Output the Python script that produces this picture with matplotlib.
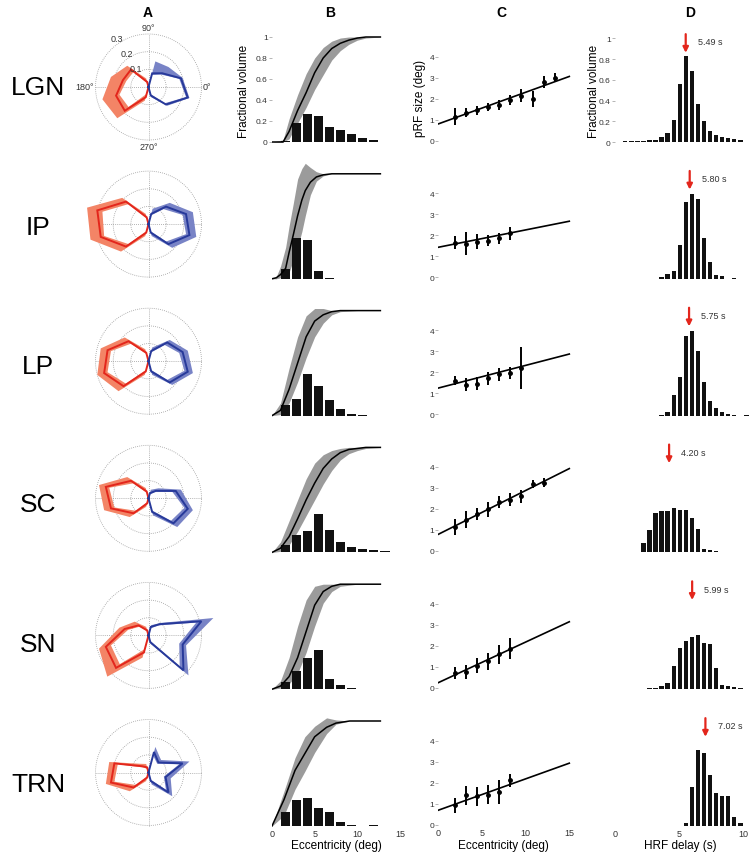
import numpy as np
import matplotlib
matplotlib.use('Agg')
import matplotlib.pyplot as plt

plt.rcParams['font.family'] = ['Liberation Sans', 'DejaVu Sans']

# ---------------- data ----------------
regions = ['LGN', 'IP', 'LP', 'SC', 'SN', 'TRN']

# A: polar angle distributions (angle bins in degrees)
red_theta = [105, 135, 165, 195, 225, 255]
blue_theta = [75, 45, 15, -15, -45, -75]
red_mid = [[0.03, 0.14, 0.15, 0.19, 0.19, 0.06],
           [0.04, 0.18, 0.30, 0.28, 0.18, 0.05],
           [0.05, 0.16, 0.24, 0.26, 0.20, 0.06],
           [0.04, 0.14, 0.25, 0.22, 0.12, 0.03],
           [0.03, 0.08, 0.14, 0.25, 0.26, 0.10],
           [0.03, 0.05, 0.20, 0.22, 0.12, 0.03]]
red_lo = [[0.02, 0.12, 0.13, 0.17, 0.16, 0.04],
          [0.03, 0.16, 0.27, 0.26, 0.16, 0.04],
          [0.04, 0.14, 0.22, 0.24, 0.18, 0.05],
          [0.03, 0.12, 0.23, 0.20, 0.10, 0.02],
          [0.02, 0.07, 0.12, 0.22, 0.23, 0.08],
          [0.02, 0.04, 0.18, 0.20, 0.10, 0.02]]
red_hi = [[0.05, 0.17, 0.22, 0.27, 0.25, 0.08],
          [0.06, 0.21, 0.36, 0.34, 0.22, 0.07],
          [0.07, 0.19, 0.28, 0.30, 0.24, 0.08],
          [0.06, 0.17, 0.29, 0.26, 0.15, 0.05],
          [0.05, 0.11, 0.17, 0.29, 0.33, 0.13],
          [0.05, 0.07, 0.23, 0.25, 0.15, 0.05]]
blue_mid = [[0.08, 0.11, 0.19, 0.23, 0.14, 0.05],
            [0.06, 0.14, 0.22, 0.24, 0.16, 0.05],
            [0.06, 0.15, 0.20, 0.23, 0.17, 0.06],
            [0.03, 0.06, 0.16, 0.23, 0.20, 0.08],
            [0.05, 0.09, 0.31, 0.20, 0.28, 0.04],
            [0.12, 0.08, 0.20, 0.10, 0.16, 0.05]]
blue_lo = [[0.07, 0.10, 0.18, 0.22, 0.13, 0.04],
           [0.05, 0.12, 0.20, 0.22, 0.14, 0.04],
           [0.05, 0.13, 0.18, 0.21, 0.15, 0.05],
           [0.02, 0.05, 0.14, 0.21, 0.18, 0.07],
           [0.04, 0.08, 0.28, 0.18, 0.25, 0.03],
           [0.10, 0.07, 0.18, 0.09, 0.14, 0.04]]
blue_hi = [[0.15, 0.16, 0.20, 0.24, 0.15, 0.06],
           [0.09, 0.17, 0.26, 0.28, 0.19, 0.07],
           [0.08, 0.17, 0.23, 0.26, 0.19, 0.08],
           [0.05, 0.08, 0.19, 0.26, 0.23, 0.10],
           [0.06, 0.10, 0.38, 0.22, 0.32, 0.05],
           [0.15, 0.10, 0.24, 0.13, 0.19, 0.07]]

# B: eccentricity histograms + cumulative curves
ecc_bins = [0.31, 1.60, 2.89, 4.18, 5.47, 6.76, 8.05, 9.34, 10.63, 11.92, 13.21]
ecc_frac = [[0, 0.01, 0.18, 0.265, 0.25, 0.147, 0.11, 0.073, 0.035, 0.02, 0],
            [0, 0.09, 0.387, 0.374, 0.073, 0.01, 0, 0, 0, 0, 0],
            [0, 0.10, 0.16, 0.40, 0.28, 0.15, 0.06, 0.02, 0.01, 0, 0],
            [0, 0.07, 0.17, 0.20, 0.37, 0.21, 0.10, 0.05, 0.03, 0.02, 0.01],
            [0, 0.07, 0.17, 0.30, 0.37, 0.10, 0.04, 0.01, 0.005, 0, 0.005],
            [0, 0.136, 0.247, 0.27, 0.168, 0.136, 0.038, 0.01, 0, 0.005, 0]]
cum_x = [[0, 1.3, 2, 3, 4, 5, 6, 7, 8, 9, 10, 11, 12.7],
         [0, 0.5, 1, 1.6, 2, 2.5, 3, 3.5, 3.9, 4.5, 5.2, 6, 7, 12.7],
         [0, 1, 2, 3, 4, 5, 6, 7, 8, 10, 12.7],
         [0, 1, 2, 3, 4, 5, 6, 7, 8, 9, 10, 11, 12.7],
         [0, 1, 2, 3, 4, 5, 6, 7, 8, 10, 12.7],
         [0, 1.4, 2.7, 3.85, 5, 6.4, 7.5, 9.1, 12.7]]
cum_mid = [[0, 0, 0.10, 0.30, 0.47, 0.66, 0.80, 0.89, 0.94, 0.97, 0.99, 1, 1],
           [0, 0.01, 0.04, 0.10, 0.25, 0.42, 0.60, 0.75, 0.84, 0.92, 0.97, 0.99, 1, 1],
           [0, 0.05, 0.25, 0.50, 0.75, 0.90, 0.96, 0.99, 1, 1, 1],
           [0, 0.04, 0.15, 0.32, 0.50, 0.66, 0.80, 0.89, 0.95, 0.98, 0.99, 1, 1],
           [0, 0.03, 0.12, 0.30, 0.55, 0.80, 0.93, 0.98, 1, 1, 1],
           [0, 0.25, 0.53, 0.69, 0.85, 0.94, 0.98, 1, 1]]
cum_lo = [[0, 0, 0.03, 0.18, 0.33, 0.50, 0.64, 0.78, 0.87, 0.93, 0.97, 0.99, 1],
          [0, 0, 0.01, 0.02, 0.06, 0.18, 0.30, 0.45, 0.60, 0.80, 0.93, 0.98, 1, 1],
          [0, 0.01, 0.12, 0.32, 0.55, 0.75, 0.88, 0.96, 0.99, 1, 1],
          [0, 0.01, 0.07, 0.20, 0.35, 0.50, 0.65, 0.78, 0.88, 0.94, 0.97, 0.99, 1],
          [0, 0.01, 0.05, 0.15, 0.35, 0.60, 0.82, 0.93, 0.98, 1, 1],
          [0, 0.10, 0.35, 0.52, 0.70, 0.88, 0.97, 1, 1]]
cum_hi = [[0, 0.02, 0.22, 0.45, 0.65, 0.80, 0.90, 0.96, 0.99, 1, 1, 1, 1],
          [0, 0.02, 0.12, 0.30, 0.50, 0.72, 0.95, 1.05, 1.10, 1.06, 1.02, 1.0, 1, 1],
          [0, 0.12, 0.45, 0.75, 0.95, 1.02, 1.02, 1.0, 1, 1, 1],
          [0, 0.10, 0.30, 0.50, 0.70, 0.85, 0.93, 0.97, 0.99, 1, 1, 1, 1],
          [0, 0.08, 0.30, 0.60, 0.85, 0.98, 1.0, 1, 1, 1, 1],
          [0, 0.33, 0.65, 0.85, 0.95, 1.03, 1.01, 1, 1]]

# C: pRF size vs eccentricity
prf_ecc = [1.90, 3.17, 4.44, 5.71, 6.98, 8.25, 9.52, 10.79, 12.06, 13.33]
prf_size = [[1.14, 1.33, 1.43, 1.59, 1.70, 1.94, 2.13, 1.98, 2.78, 3.00],
            [1.65, 1.60, 1.70, 1.75, 1.85, 2.10],
            [1.60, 1.40, 1.45, 1.70, 1.90, 1.95, 2.20],
            [1.14, 1.49, 1.75, 1.98, 2.33, 2.44, 2.60, 3.20, 3.25],
            [0.70, 0.75, 1.05, 1.25, 1.60, 1.85],
            [0.92, 1.39, 1.34, 1.42, 1.55, 2.10]]
prf_err = [[0.40, 0.20, 0.20, 0.20, 0.25, 0.25, 0.30, 0.40, 0.30, 0.20],
           [0.30, 0.55, 0.35, 0.25, 0.25, 0.30],
           [0.20, 0.30, 0.30, 0.30, 0.30, 0.30, 1.00],
           [0.40, 0.40, 0.30, 0.35, 0.30, 0.30, 0.30, 0.20, 0.20],
           [0.30, 0.35, 0.35, 0.40, 0.45, 0.50],
           [0.35, 0.45, 0.45, 0.45, 0.55, 0.30]]
fit_at0 = [0.79, 1.43, 1.24, 0.79, 0.24, 0.68]
fit_at15 = [3.05, 2.67, 2.86, 3.92, 3.14, 2.92]

# D: HRF delay histograms
delay_bins = [0.80, 1.27, 1.74, 2.21, 2.68, 3.15, 3.62, 4.09, 4.56, 5.03, 5.50,
              5.97, 6.44, 6.91, 7.38, 7.85, 8.32, 8.79, 9.26, 9.73, 10.20]
delay_frac = [[0.01, 0.01, 0.01, 0.01, 0.015, 0.02, 0.05, 0.085, 0.21, 0.56, 0.83,
               0.68, 0.37, 0.20, 0.105, 0.065, 0.05, 0.04, 0.03, 0.02, 0],
              [0, 0, 0, 0, 0, 0, 0.015, 0.045, 0.075, 0.33, 0.74,
               0.82, 0.77, 0.39, 0.16, 0.04, 0.03, 0, 0.005, 0, 0],
              [0, 0, 0, 0, 0, 0, 0.008, 0.03, 0.20, 0.37, 0.77,
               0.82, 0.62, 0.32, 0.145, 0.07, 0.03, 0.015, 0.008, 0, 0.005],
              [0, 0, 0, 0.09, 0.22, 0.38, 0.40, 0.40, 0.43, 0.41, 0.41,
               0.33, 0.23, 0.03, 0.02, 0.01, 0, 0, 0, 0, 0],
              [0, 0, 0, 0, 0.008, 0.01, 0.03, 0.06, 0.22, 0.40, 0.46,
               0.50, 0.52, 0.45, 0.44, 0.20, 0.04, 0.03, 0.02, 0.008, 0],
              [0, 0, 0, 0, 0, 0, 0, 0, 0, 0, 0.026,
               0.38, 0.73, 0.70, 0.49, 0.32, 0.29, 0.29, 0.09, 0.026, 0]]
delay_mean = [5.49, 5.80, 5.75, 4.20, 5.99, 7.02]

# ---------------- layout ----------------
W, H = 752, 853
fig = plt.figure(figsize=(W / 100, H / 100), dpi=100)
PITCH = 136.8
RED_LINE, RED_FILL = '#e3261c', '#f38466'
BLUE_LINE, BLUE_FILL = '#27399a', '#7883c6'
TICKC = '#333333'


def axes_px(xlim, ylim, xa, xpa, xb, xpb, ya, ypa, yb, ypb):
    sx = (xpb - xpa) / (xb - xa)
    sy = (ypb - ypa) / (yb - ya)
    left = xpa + (xlim[0] - xa) * sx
    right = xpa + (xlim[1] - xa) * sx
    bottom = ypa + (ylim[0] - ya) * sy
    top = ypa + (ylim[1] - ya) * sy
    ax = fig.add_axes([left / W, 1 - bottom / H, (right - left) / W, (bottom - top) / H])
    ax.set_xlim(xlim)
    ax.set_ylim(ylim)
    for s in ax.spines.values():
        s.set_visible(False)
    ax.patch.set_alpha(0)
    ax.tick_params(axis='y', length=2, width=0.5, color='#999999', labelsize=6,
                   pad=1, labelcolor=TICKC)
    ax.tick_params(axis='x', length=0, labelsize=6.5, pad=1, labelcolor=TICKC)
    return ax


def loop(theta, r):
    th = np.deg2rad(np.r_[theta[0], theta, theta[-1]])
    rr = np.r_[0, r, 0]
    return rr * np.cos(th), rr * np.sin(th)


# headers
for lab, xp in zip(['A', 'B', 'C', 'D'], [148, 330, 501, 690]):
    fig.text(xp / W, 1 - 13 / H, lab, ha='center', va='center',
             fontsize=10, fontweight='bold')

label_y = [88, 228, 367, 505, 645, 785]

for i, reg in enumerate(regions):
    off = i * PITCH
    fig.text(38 / W, 1 - label_y[i] / H, reg, ha='center', va='center', fontsize=19)

    # ---- A polar ----
    cy = 88 + i * 137.1
    ax = axes_px((-0.42, 0.42), (-0.42, 0.42), 0, 148.5, 0.3, 148.5 + 53,
                 0, cy, 0.3, cy - 53)
    ax.set_xticks([]); ax.set_yticks([])
    tt = np.linspace(0, 2 * np.pi, 200)
    for rg in [0.1, 0.2, 0.3]:
        ax.plot(rg * np.cos(tt), rg * np.sin(tt), color='#9a9a9a', lw=0.6,
                ls=(0, (1, 1.5)), zorder=1)
    ax.plot([-0.3, 0.3], [0, 0], color='#9a9a9a', lw=0.6, ls=(0, (1, 1.5)), zorder=1)
    ax.plot([0, 0], [-0.3, 0.3], color='#9a9a9a', lw=0.6, ls=(0, (1, 1.5)), zorder=1)
    for th, mid, lo, hi, lc, fc in [
            (red_theta, red_mid[i], red_lo[i], red_hi[i], RED_LINE, RED_FILL),
            (blue_theta, blue_mid[i], blue_lo[i], blue_hi[i], BLUE_LINE, BLUE_FILL)]:
        hx, hy = loop(th, hi)
        lx, ly = loop(th, lo)
        ax.fill(np.r_[hx, lx[::-1]], np.r_[hy, ly[::-1]], color=fc, lw=0, zorder=2)
        mx, my = loop(th, mid)
        ax.plot(mx, my, color=lc, lw=1.4, zorder=3, solid_joinstyle='miter')
    if i == 0:
        kw = dict(fontsize=6.5, color=TICKC, ha='center', va='center')
        ax.text(0, 0.334, '90°', **kw)
        ax.text(0, -0.334, '270°', **kw)
        ax.text(-0.362, 0, '180°', **kw)
        ax.text(0.33, 0, '0°', **kw)
        for rg in [0.1, 0.2, 0.3]:
            a = np.deg2rad(123)
            ax.text((rg + 0.027) * np.cos(a), (rg + 0.027) * np.sin(a), f'{rg:.1f}', **kw)

    # ---- B eccentricity ----
    ax = axes_px((0, 15), (-0.02, 1.15), 0, 272, 15, 400, 0, 143 + off, 1, 38 + off)
    ax.fill_between(cum_x[i], cum_lo[i], cum_hi[i], color='#9b9b9b', lw=0, zorder=1)
    ax.plot(cum_x[i], cum_mid[i], color='k', lw=1.1, zorder=3)
    ax.bar(ecc_bins, ecc_frac[i], width=1.12, color='#111111', zorder=2)
    if i == 0:
        ax.set_yticks([0, 0.2, 0.4, 0.6, 0.8, 1])
        ax.set_yticklabels(['0', '0.2', '0.4', '0.6', '0.8', '1'])
    else:
        ax.set_yticks([])
    if i == 5:
        ax.set_xticks([0, 5, 10, 15])
    else:
        ax.set_xticks([])

    # ---- C pRF size ----
    ax = axes_px((0, 15.5), (-0.12, 4.6), 0, 438.3, 15, 569.3, 0, 141.5 + off, 4, 57.5 + off)
    ax.plot([0, 15], [fit_at0[i], fit_at15[i]], color='k', lw=1.2, zorder=2)
    n = len(prf_size[i])
    ax.errorbar(prf_ecc[:n], prf_size[i], yerr=prf_err[i], fmt='o', ms=2.5,
                color='k', elinewidth=1.4, capsize=0, zorder=3)
    ax.set_yticks([0, 1, 2, 3, 4])
    if i == 5:
        ax.set_xticks([0, 5, 10, 15])
    else:
        ax.set_xticks([])

    # ---- D HRF delay ----
    ax = axes_px((0, 10.4), (-0.02, 1.1), 0, 615, 10, 743.8, 0, 143 + off, 1, 39.3 + off)
    ax.bar(delay_bins, delay_frac[i], width=0.34, color='#111111', zorder=2)
    ax.annotate('', xy=(delay_mean[i], 0.86), xytext=(delay_mean[i], 1.04),
                arrowprops=dict(arrowstyle='-|>', color='#e3261c', lw=1.6,
                                mutation_scale=8, shrinkA=0, shrinkB=0),
                annotation_clip=False)
    ax.text(delay_mean[i] + 0.95, 0.965, f'{delay_mean[i]:.2f} s', fontsize=6.5,
            color=TICKC, ha='left', va='center')
    if i == 0:
        ax.set_yticks([0, 0.2, 0.4, 0.6, 0.8, 1])
        ax.set_yticklabels(['0', '0.2', '0.4', '0.6', '0.8', '1'])
    else:
        ax.set_yticks([])
    if i == 5:
        ax.set_xticks([0, 5, 10])
    else:
        ax.set_xticks([])

# axis labels
fig.text(244 / W, 1 - 91 / H, 'Fractional volume', rotation=90, ha='center', va='center', fontsize=8.5)
fig.text(420 / W, 1 - 98 / H, 'pRF size (deg)', rotation=90, ha='center', va='center', fontsize=8.5)
fig.text(594 / W, 1 - 91 / H, 'Fractional volume', rotation=90, ha='center', va='center', fontsize=8.5)
fig.text(336 / W, 1 - 846 / H, 'Eccentricity (deg)', ha='center', va='center', fontsize=8.5)
fig.text(503 / W, 1 - 846 / H, 'Eccentricity (deg)', ha='center', va='center', fontsize=8.5)
fig.text(680 / W, 1 - 846 / H, 'HRF delay (s)', ha='center', va='center', fontsize=8.5)

fig.savefig('out.png', dpi=100)
